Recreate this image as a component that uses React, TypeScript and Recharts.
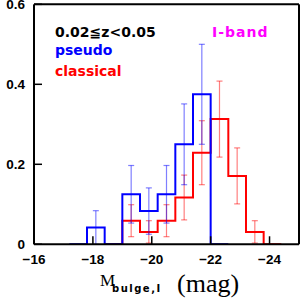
import React from "react";
import { ComposedChart, Line, Scatter, ErrorBar, XAxis, YAxis } from "recharts";

// Bin edges (mag) and fractions
const pseudoEdges = [-17.2, -17.8, -18.4, -19.0, -19.6, -20.2, -20.8, -21.4, -22.0, -22.6];
const pseudoFrac = [0, 0.042, 0, 0.125, 0.083, 0.125, 0.25, 0.375, 0];
const pseudoErr = [0, 0.042, 0, 0.072, 0.058, 0.072, 0.101, 0.125, 0];

const classicalEdges = [-18.4, -19.0, -19.6, -20.2, -20.8, -21.4, -22.0, -22.6, -23.2, -23.8, -24.4];
const classicalFrac = [0, 0.059, 0.031, 0.059, 0.117, 0.229, 0.313, 0.171, 0.031, 0];
const classicalErr = [0, 0.04, 0.028, 0.04, 0.056, 0.08, 0.095, 0.07, 0.028, 0];

const xMajorTicks = [-16, -18, -20, -22, -24];
const xMinorTicks = [-16, -16.5, -17, -17.5, -18, -18.5, -19, -19.5, -20, -20.5, -21, -21.5, -22, -22.5, -23, -23.5, -24, -24.5, -25];
const yMajorTicks = [0, 0.2, 0.4, 0.6];
const yMinorTicks = [0, 0.05, 0.1, 0.15, 0.2, 0.25, 0.3, 0.35, 0.4, 0.45, 0.5, 0.55, 0.6];

const stepData = (edges: number[], vals: number[]) =>
  edges.map((e, i) => ({ x: e, y: i < vals.length ? vals[i] : vals[vals.length - 1] }));

const errData = (edges: number[], vals: number[], errs: number[]) =>
  vals
    .map((v, i) => ({ x: (edges[i] + edges[i + 1]) / 2, y: v, err: errs[i] }))
    .filter((d) => d.err > 0);

const pseudoStep = stepData(pseudoEdges, pseudoFrac);
const classicalStep = stepData(classicalEdges, classicalFrac);
const pseudoErrPts = errData(pseudoEdges, pseudoFrac, pseudoErr);
const classicalErrPts = errData(classicalEdges, classicalFrac, classicalErr);

const tickFont = { fontFamily: "Liberation Sans", fontWeight: "bold", fontSize: 13.5, fill: "#000" };
const fmtX = (v: number) => "\u2212" + Math.abs(v);
const fmtY = (v: number) => (v === 0 ? "0" : v.toFixed(1));
const axisStroke = { stroke: "#000", strokeWidth: 2 };
const tickStroke = { stroke: "#000", strokeWidth: 1.5 };

const XDOM: [number, number] = [-25, -16];
const YDOM: [number, number] = [0, 0.6];
const THIN = 0.01;

export default function App() {
  return (
    <div style={{ position: "absolute", left: 0, top: 0, width: 300, height: 304, background: "#fff" }}>
      <ComposedChart width={300} height={304} margin={{ top: 4.3, right: 1, bottom: 59.7, left: 34 }}>
        <XAxis xAxisId="b" dataKey="x" type="number" domain={XDOM} reversed allowDataOverflow height={THIN}
          ticks={xMajorTicks} interval={0} tickSize={-8} tickMargin={18} tickFormatter={fmtX}
          tick={tickFont} axisLine={axisStroke} tickLine={tickStroke} />
        <XAxis xAxisId="bm" type="number" domain={XDOM} reversed allowDataOverflow height={THIN}
          ticks={xMinorTicks} interval={0} tickSize={-4} tick={false} axisLine={false} tickLine={tickStroke} />
        <XAxis xAxisId="t" orientation="top" type="number" domain={XDOM} reversed allowDataOverflow height={THIN}
          ticks={xMajorTicks} interval={0} tickSize={-8} tick={false} axisLine={axisStroke} tickLine={tickStroke} />
        <XAxis xAxisId="tm" orientation="top" type="number" domain={XDOM} reversed allowDataOverflow height={THIN}
          ticks={xMinorTicks} interval={0} tickSize={-4} tick={false} axisLine={false} tickLine={tickStroke} />
        <YAxis yAxisId="l" dataKey="y" type="number" domain={YDOM} allowDataOverflow width={THIN}
          ticks={yMajorTicks} interval={0} tickSize={-8} tickMargin={17} tickFormatter={fmtY}
          tick={tickFont} axisLine={axisStroke} tickLine={tickStroke} />
        <YAxis yAxisId="lm" type="number" domain={YDOM} allowDataOverflow width={THIN}
          ticks={yMinorTicks} interval={0} tickSize={-4} tick={false} axisLine={false} tickLine={tickStroke} />
        <YAxis yAxisId="r" orientation="right" type="number" domain={YDOM} allowDataOverflow width={THIN}
          ticks={yMajorTicks} interval={0} tickSize={-8} tick={false} axisLine={axisStroke} tickLine={tickStroke} />
        <YAxis yAxisId="rm" orientation="right" type="number" domain={YDOM} allowDataOverflow width={THIN}
          ticks={yMinorTicks} interval={0} tickSize={-4} tick={false} axisLine={false} tickLine={tickStroke} />

        <Line xAxisId="b" yAxisId="l" data={classicalStep} dataKey="y" type="stepAfter"
          stroke="#ff0000" strokeWidth={2} dot={false} isAnimationActive={false} />
        <Line xAxisId="b" yAxisId="l" data={pseudoStep} dataKey="y" type="stepAfter"
          stroke="#0000ff" strokeWidth={2} dot={false} isAnimationActive={false} />

        <Scatter xAxisId="b" yAxisId="l" data={classicalErrPts} dataKey="y" shape={() => <g />} isAnimationActive={false}>
          <ErrorBar dataKey="err" direction="y" width={3} stroke="rgba(255,0,0,0.5)" strokeWidth={1.2} isAnimationActive={false} />
        </Scatter>
        <Scatter xAxisId="b" yAxisId="l" data={pseudoErrPts} dataKey="y" shape={() => <g />} isAnimationActive={false}>
          <ErrorBar dataKey="err" direction="y" width={3} stroke="rgba(0,0,255,0.5)" strokeWidth={1.2} isAnimationActive={false} />
        </Scatter>
      </ComposedChart>
      <svg width={300} height={304} style={{ position: "absolute", left: 0, top: 0, pointerEvents: "none" }}>
        <g fontFamily="DejaVu Sans" fontWeight="bold" fontSize={14}>
          <text x={55} y={36.7} fill="#000">0.02≦z&lt;0.05</text>
          <text x={55} y={55} fill="#0000ff">pseudo</text>
          <text x={55} y={76} fill="#ff0000">classical</text>
          <text x={212} y={36.7} fill="#ff00ff" letterSpacing={1}>I-band</text>
        </g>
        <text x={100} y={285.7} fontFamily="Liberation Serif" fontSize={17} fill="#000">M</text>
        <text x={112} y={291.5} fontFamily="DejaVu Sans" fontWeight="bold" fontSize={10} letterSpacing={1.5} fill="#000">bulge,I</text>
        <text x={177} y={291.7} fontFamily="Liberation Serif" fontSize={26} fill="#000">(mag)</text>
      </svg>
    </div>
  );
}
